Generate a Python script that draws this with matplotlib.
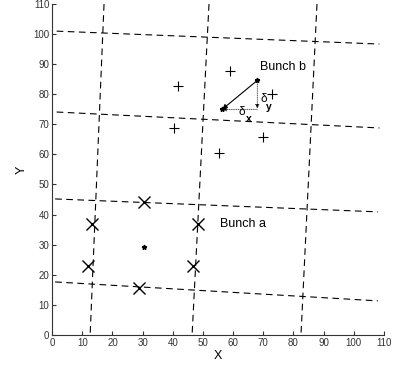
import matplotlib
matplotlib.use("Agg")
import matplotlib.pyplot as plt

plt.rcParams['font.family'] = ['Liberation Sans', 'DejaVu Sans']

# dashed grid lines (start point, end point)
h_lines = [((1.5, 101.0), (108.5, 96.7)),
           ((1.5, 74.1), (108.5, 68.8)),
           ((1.0, 45.2), (108.0, 40.9)),
           ((1.0, 17.6), (108.0, 11.3))]
v_lines = [((17.2, 110.0), (12.6, 0.0)),
           ((52.0, 110.0), (46.4, 0.0)),
           ((87.8, 110.0), (82.5, 0.0))]

# bunch a: crosses and its centre
a_x = [13.2, 12.0, 30.6, 28.9, 48.2, 46.8]
a_y = [37.0, 23.0, 44.3, 15.7, 37.0, 23.0]
a_centre = (30.6, 29.2)

# bunch b: pluses
b_x = [41.8, 40.4, 59.0, 72.9, 70.0, 55.4]
b_y = [82.8, 68.7, 87.7, 80.0, 65.7, 60.5]
b_from = (68.0, 84.6)
b_to = (56.4, 75.0)

fig = plt.figure(figsize=(3.95, 3.7), dpi=100)
ax = fig.add_axes([0.132, 0.095, 0.84, 0.894])

for (x0, y0), (x1, y1) in h_lines + v_lines:
    ax.plot([x0, x1], [y0, y1], color='black', lw=0.8, dashes=(6, 4))

ax.plot(a_x, a_y, 'x', color='black', ms=8, mew=1.0)
ax.plot(*a_centre, '*', color='black', ms=3.5)
ax.plot(b_x, b_y, '+', color='black', ms=7, mew=0.8)
ax.plot([b_from[0], b_to[0]], [b_from[1], b_to[1]], '*', color='black', ms=3.5)

# displacement arrow and its components
ax.annotate('', xy=b_to, xytext=b_from,
            arrowprops=dict(arrowstyle='-|>', color='black', lw=0.8,
                            mutation_scale=7, shrinkA=0, shrinkB=0))
ax.annotate('', xy=(b_from[0], b_to[1] + 0.3), xytext=b_from,
            arrowprops=dict(arrowstyle='-|>', color='black', lw=0.5,
                            ls=':', mutation_scale=6, shrinkA=0, shrinkB=0))
ax.annotate('', xy=b_to, xytext=(b_from[0], b_to[1]),
            arrowprops=dict(arrowstyle='-|>', color='black', lw=0.5,
                            ls=':', mutation_scale=6, shrinkA=0, shrinkB=0))
ax.text(69.0, 78.5, 'δ', fontsize=8.5, ha='left', va='center')
ax.text(70.8, 75.8, 'y', fontsize=7.5, ha='left', va='center', fontweight='bold')
ax.text(61.8, 74.0, 'δ', fontsize=8.5, ha='left', va='center')
ax.text(64.2, 71.8, 'x', fontsize=7.5, ha='left', va='center', fontweight='bold')

ax.text(69.0, 89.0, 'Bunch b', fontsize=9, ha='left', va='center')
ax.text(55.5, 37.0, 'Bunch a', fontsize=9, ha='left', va='center')

ax.set_xlim(0, 110)
ax.set_ylim(0, 110)
ax.set_xticks(range(0, 111, 10))
ax.set_yticks(range(0, 111, 10))
ax.tick_params(direction='in', length=3, labelsize=7, pad=2, colors='#333333')
ax.spines['top'].set_visible(False)
ax.spines['right'].set_visible(False)
ax.spines['left'].set_color('#333333')
ax.spines['bottom'].set_color('#333333')
ax.set_xlabel('X', fontsize=9, labelpad=2)
ax.set_ylabel('Y', fontsize=9, labelpad=4)

fig.savefig('out.png', dpi=100)
